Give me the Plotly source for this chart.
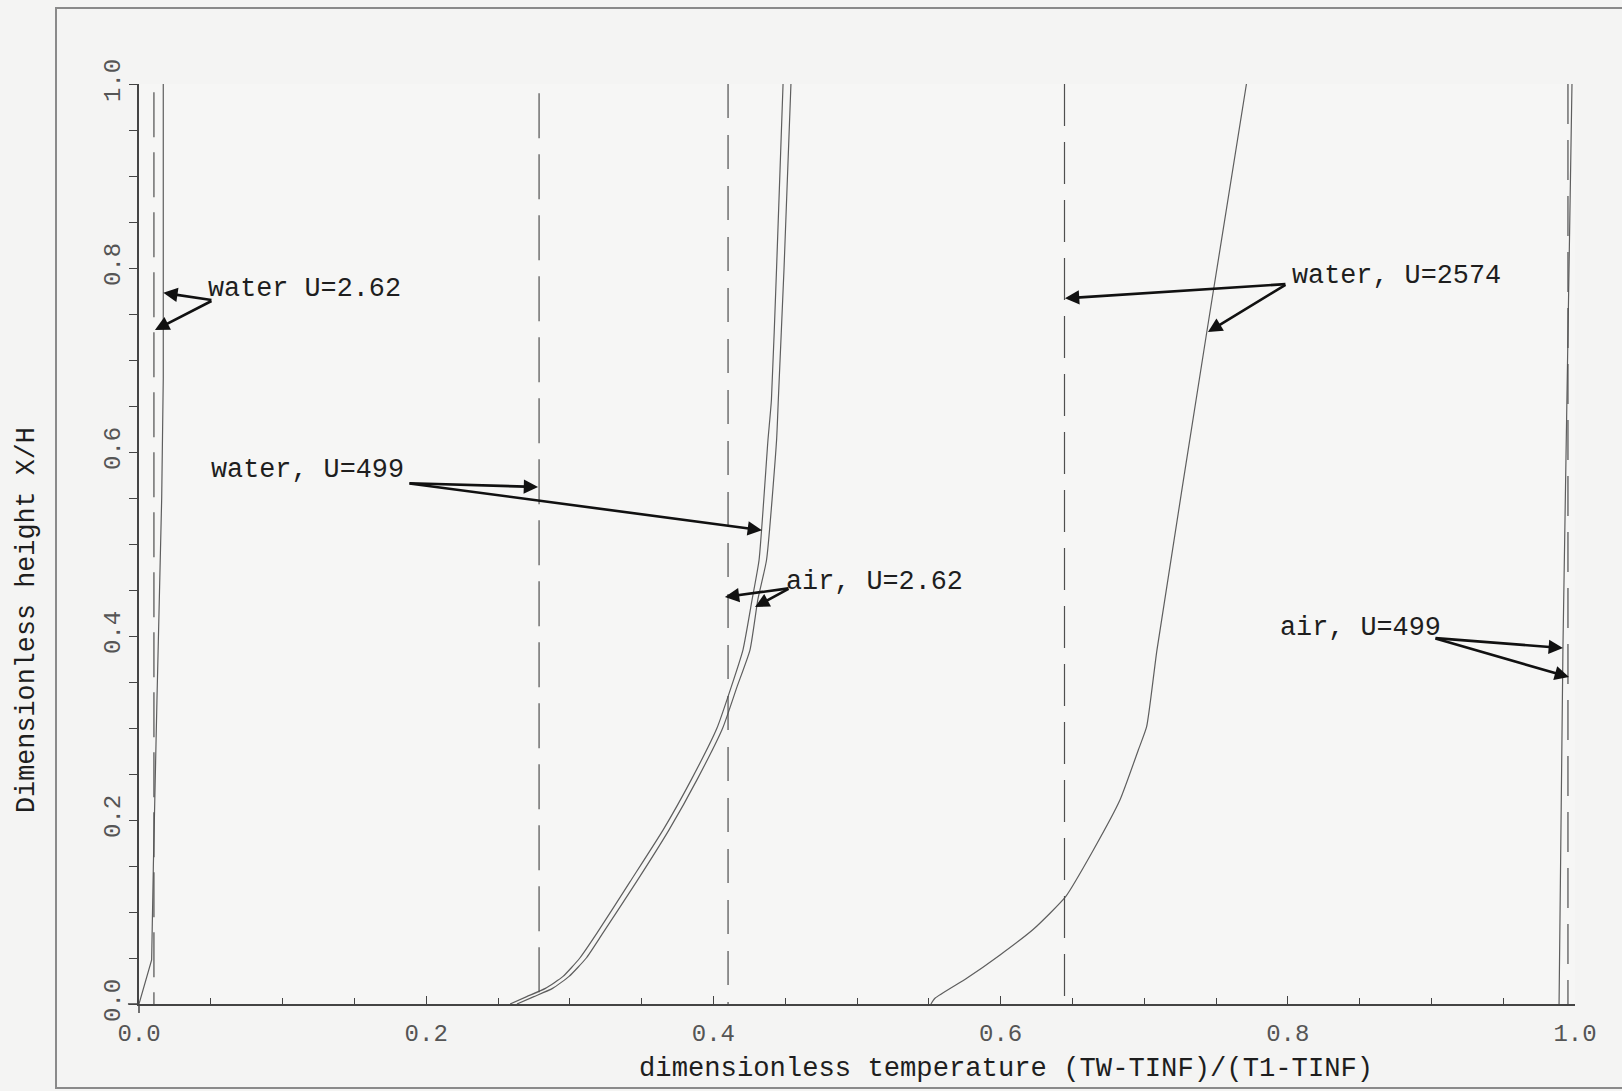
import plotly.graph_objects as go

# ---------------- data ----------------
# solid profiles
water_262_x = [0.0, 0.0088, 0.0100, 0.0112, 0.0125, 0.0158, 0.0169, 0.0169]
water_262_y = [0.0, 0.048, 0.15, 0.25, 0.33, 0.55, 0.68, 1.0]

water_499_x = [0.2584, 0.2700, 0.2830, 0.2953, 0.3070, 0.3189, 0.3420, 0.3649, 0.3850,
               0.4025, 0.4125, 0.4206, 0.4270, 0.4318, 0.4380, 0.4404, 0.4440, 0.4485]
water_499_y = [0.0, 0.008, 0.017, 0.030, 0.050, 0.077, 0.133, 0.189, 0.245,
               0.300, 0.345, 0.385, 0.440, 0.4826, 0.613, 0.6565, 0.80, 1.0]

air_262_x = [0.2632, 0.2750, 0.2880, 0.2995, 0.3115, 0.3230, 0.3465, 0.3690, 0.3890,
             0.4065, 0.4165, 0.4255, 0.4310, 0.4370, 0.4440, 0.4452, 0.4492, 0.4540]
air_262_y = [0.0, 0.008, 0.017, 0.030, 0.050, 0.077, 0.133, 0.189, 0.245,
             0.300, 0.345, 0.385, 0.440, 0.4826, 0.613, 0.6565, 0.80, 1.0]

water_2574_x = [0.5515, 0.5543, 0.5764, 0.5996, 0.6228, 0.6453, 0.6646, 0.6831,
                0.6959, 0.7017, 0.7089, 0.7437, 0.7712]
water_2574_y = [0.0, 0.0062, 0.0279, 0.0533, 0.0812, 0.1167, 0.1674, 0.2217,
                0.2761, 0.3014, 0.385, 0.7315, 1.0]

air_499_x = [0.9889, 0.9916, 0.9979]
air_499_y = [0.0, 0.387, 1.0]

# dashed (uniform) reference values
dashed_names = ["water U=2.62", "water U=499", "air U=2.62", "water U=2574", "air U=499"]
dashed_x = [0.0104, 0.2786, 0.4102, 0.6445, 0.9951]
dashed_top = [0.991, 0.99, 1.0, 1.0, 1.0]
dashed_pattern = ["45px,15px", "45px,16px", "34px,17px", "42px,16px", "40px,16px"]

# annotation labels
label_text = ["water U=2.62", "water, U=499", "air, U=2.62", "water, U=2574", "air, U=499"]
label_x = [0.047, 0.0484, 0.4489, 0.8012, 0.7929]
label_y = [0.777, 0.5804, 0.4587, 0.7913, 0.4087]

# arrows: tail -> two tips
arrow_tail_x = [0.0515, 0.1873, 0.4533, 0.7994, 0.9018]
arrow_tail_y = [0.765, 0.566, 0.452, 0.7826, 0.3978]
arrow_tip1_x = [0.0169, 0.2779, 0.4080, 0.6448, 0.9916]
arrow_tip1_y = [0.773, 0.562, 0.4424, 0.767, 0.387]
arrow_tip2_x = [0.0111, 0.4338, 0.4290, 0.7444, 0.9958]
arrow_tip2_y = [0.7326, 0.515, 0.4315, 0.7304, 0.3554]

tick_vals = [0.0, 0.2, 0.4, 0.6, 0.8, 1.0]
tick_text = ["0.0", "0.2", "0.4", "0.6", "0.8", "1.0"]

x_title = "dimensionless temperature (TW-TINF)/(T1-TINF)"
y_title = "Dimensionless height X/H"

# ---------------- figure ----------------
FONT = "Liberation Mono, Courier New, monospace"
curve_color = "#5e5e5e"
dash_color = "#4f4f4f"

fig = go.Figure()

for xs, ys, shp in [(water_262_x, water_262_y, "linear"),
                    (water_499_x, water_499_y, "spline"),
                    (air_262_x, air_262_y, "spline"),
                    (water_2574_x, water_2574_y, "spline"),
                    (air_499_x, air_499_y, "linear")]:
    fig.add_trace(go.Scatter(x=xs, y=ys, mode="lines",
                             line=dict(color=curve_color, width=1.2, shape=shp, smoothing=0.5),
                             hoverinfo="skip", showlegend=False))

for xv, top, pat in zip(dashed_x, dashed_top, dashed_pattern):
    fig.add_trace(go.Scatter(x=[xv, xv], y=[top, 0.0], mode="lines",
                             line=dict(color=dash_color, width=1.2, dash=pat),
                             hoverinfo="skip", showlegend=False))

annotations = []
for t, x, y in zip(label_text, label_x, label_y):
    annotations.append(dict(x=x, y=y, xref="x", yref="y", text=t, showarrow=False,
                            xanchor="left", yanchor="middle",
                            font=dict(family=FONT, size=26.8, color="#1e1e1e")))

for i in range(len(arrow_tail_x)):
    for tx, ty in [(arrow_tip1_x[i], arrow_tip1_y[i]), (arrow_tip2_x[i], arrow_tip2_y[i])]:
        annotations.append(dict(x=tx, y=ty, xref="x", yref="y",
                                ax=arrow_tail_x[i], ay=arrow_tail_y[i],
                                axref="x", ayref="y", text="", showarrow=True,
                                arrowhead=2, arrowsize=1.1, arrowwidth=2.6,
                                arrowcolor="#111111", standoff=0, startstandoff=0))

annotations.append(dict(x=0.6036, y=-0.0696, xref="paper", yref="paper", text=x_title,
                        showarrow=False, xanchor="center", yanchor="middle",
                        font=dict(family=FONT, size=27.2, color="#1e1e1e")))
annotations.append(dict(x=-0.078, y=0.4174, xref="paper", yref="paper", text=y_title,
                        showarrow=False, xanchor="center", yanchor="middle", textangle=-90,
                        font=dict(family=FONT, size=26.8, color="#1e1e1e")))

shapes = [
    # outer frame of the page
    dict(type="rect", xref="paper", yref="paper", x0=-0.0578, x1=1.06, y0=-0.0913, y1=1.0826,
         line=dict(color="#8a8a8a", width=2), fillcolor="rgba(0,0,0,0)", layer="below"),
    # small axis-line extensions past the origin
    dict(type="line", xref="paper", yref="paper", x0=-0.0077, x1=0.0, y0=0.0, y1=0.0,
         line=dict(color="#444444", width=1.5)),
    dict(type="line", xref="paper", yref="paper", x0=0.0, x1=0.0, y0=-0.0098, y1=0.0,
         line=dict(color="#444444", width=1.5)),
]

fig.update_layout(
    width=1622, height=1091,
    margin=dict(l=139, r=47, t=84, b=87),
    paper_bgcolor="#f4f4f3", plot_bgcolor="#f6f6f5",
    showlegend=False,
    annotations=annotations,
    shapes=shapes,
    xaxis=dict(range=[0.0, 1.0], showgrid=False, zeroline=False,
               showline=True, linecolor="#444444", linewidth=1.5,
               tickmode="array", tickvals=tick_vals, ticktext=tick_text,
               ticks="inside", ticklen=8, tickcolor="#444444", tickwidth=1.2,
               minor=dict(dtick=0.05, ticks="inside", ticklen=6, tickcolor="#444444",
                          showgrid=False),
               tickfont=dict(family=FONT, size=24, color="#555555"),
               ticklabelstandoff=6),
    yaxis=dict(range=[0.0, 1.0], showgrid=False, zeroline=False,
               showline=True, linecolor="#444444", linewidth=1.5,
               tickmode="array", tickvals=tick_vals, ticktext=tick_text,
               ticks="outside", ticklen=8, tickcolor="#444444", tickwidth=1.2,
               minor=dict(dtick=0.05, ticks="outside", ticklen=8, tickcolor="#444444",
                          showgrid=False),
               tickangle=-90,
               tickfont=dict(family=FONT, size=24, color="#555555")),
)

fig.write_html("out.html")
